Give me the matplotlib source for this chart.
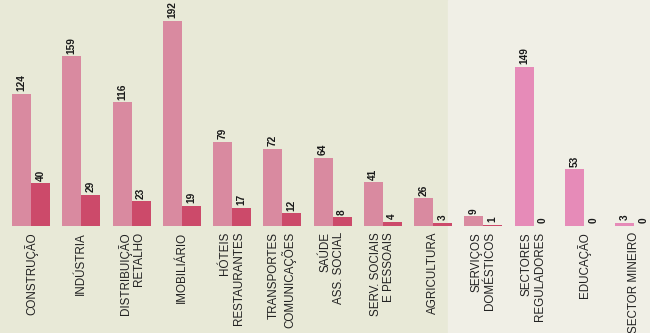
import numpy as np
import matplotlib.pyplot as plt

categorias = ["CONSTRUÇÃO", "INDÚSTRIA", "DISTRIBUIÇÃO\nRETALHO", "IMOBILIÁRIO",
              "HÓTEIS\nRESTAURANTES", "TRANSPORTES\nCOMUNICAÇÕES", "SAÚDE\nASS. SOCIAL",
              "SERV. SOCIAIS\nE PESSOAIS", "AGRICULTURA", "SERVIÇOS\nDOMÉSTICOS",
              "SECTORES\nREGULADORES", "EDUCAÇÃO", "SECTOR MINEIRO"]
serie_a = [124, 159, 116, 192, 79, 72, 64, 41, 26, 9, 149, 53, 3]
serie_b = [40, 29, 23, 19, 17, 12, 8, 4, 3, 1, 0, 0, 0]

fnt = ['Liberation Sans', 'DejaVu Sans']

fig = plt.figure(figsize=(6.5, 3.33), dpi=100)
ax = fig.add_axes([0, 0, 1, 1])
ax.set_facecolor('#e8e9d7')
ax.axvspan(8.3, 13, color='#f0efe6', zorder=0)

x = np.arange(len(categorias))
w = 0.378
cor_a = ['#d98aa0'] * 10 + ['#e68bb8'] * 3
ax.bar(x - w / 2, serie_a, w, color=cor_a, zorder=2)
ax.bar(x + w / 2, serie_b, w, color='#cc4a6a', zorder=2)

for i in range(len(categorias)):
    ax.text(x[i] - w / 2, serie_a[i] + 2.5, str(serie_a[i]), rotation=90, ha='center', va='bottom',
            fontsize=7.3, fontweight='bold', family=fnt, color='#1a1a1a', zorder=3)
    ax.text(x[i] + w / 2, serie_b[i] + 2.5, str(serie_b[i]), rotation=90, ha='center', va='bottom',
            fontsize=7.3, fontweight='bold', family=fnt, color='#1a1a1a', zorder=3)
    ax.text(x[i], -5.5, categorias[i], rotation=90, ha='center', va='top', multialignment='right',
            fontsize=8.4, family=fnt, color='#222222', linespacing=1.15, zorder=3)

ax.set_xlim(-0.617, 12.318)
ax.set_ylim(-100.2, 211.7)
ax.axis('off')

plt.savefig('out.png', dpi=100, facecolor='#e8e9d7')
plt.close()
